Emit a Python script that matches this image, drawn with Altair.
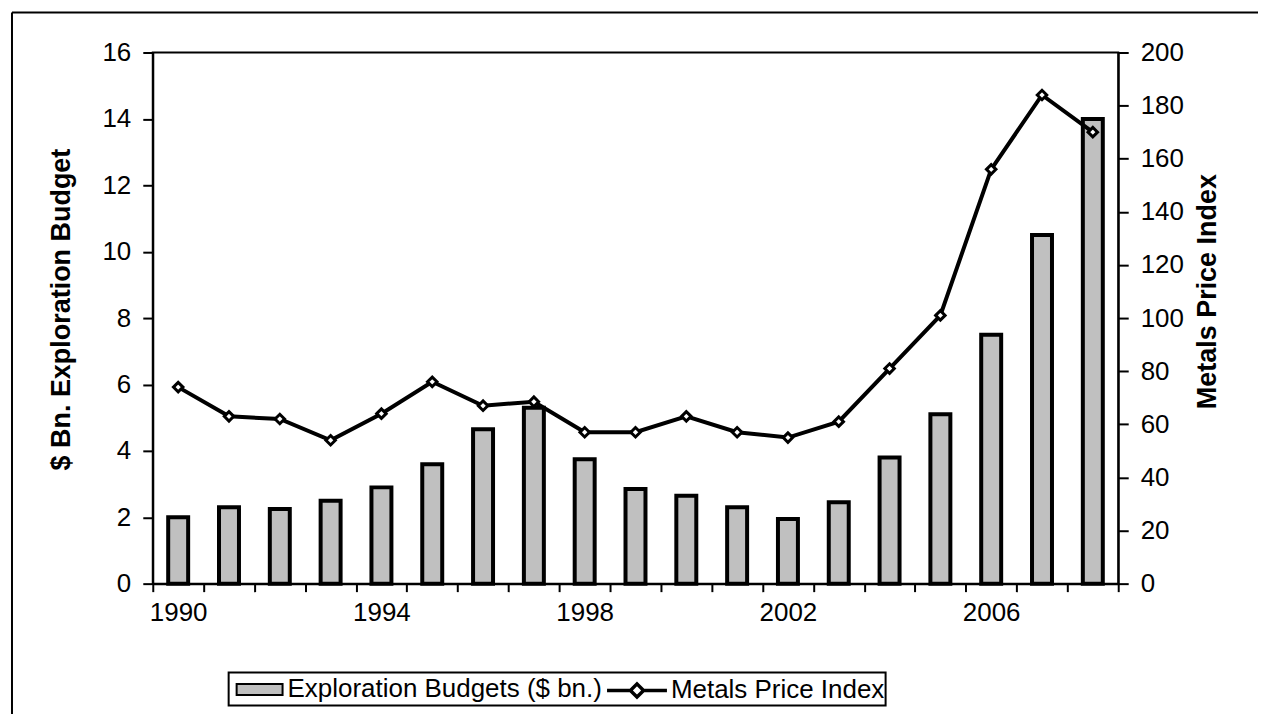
import json
import altair as alt
import pandas as pd

# ---- data ----
years = ["1990", "1991", "1992", "1993", "1994", "1995", "1996", "1997", "1998", "1999",
         "2000", "2001", "2002", "2003", "2004", "2005", "2006", "2007", "2008"]
budgets = [2.0, 2.3, 2.25, 2.5, 2.9, 3.6, 4.65, 5.3, 3.75, 2.85,
           2.65, 2.3, 1.95, 2.45, 3.8, 5.1, 7.5, 10.5, 14.0]
metals_index = [74, 63, 62, 54, 64, 76, 67, 68.5, 57, 57,
                63, 57, 55, 61, 81, 101, 156, 184, 170]
shown_year_labels = ["1990", "1994", "1998", "2002", "2006"]
left_ticks = [0, 2, 4, 6, 8, 10, 12, 14, 16]
right_ticks = [0, 20, 40, 60, 80, 100, 120, 140, 160, 180, 200]
bar_label = "Exploration Budgets ($ bn.)"
line_label = "Metals Price Index"
left_title = "$ Bn. Exploration Budget"
right_title = "Metals Price Index"

FONT = "Liberation Sans"
BAR_FILL = "#c0c0c0"

df = pd.DataFrame({
    "year": years,
    "budget": budgets,
    "index": metals_index,
    "s_bar": [bar_label] * len(years),
    "s_line": [line_label] * len(years),
})

W, H = 967, 532

bar_path = "M-1,-0.24L1,-0.24L1,0.24L-1,0.24Z"
line_path = "M-1,0L-0.22,0M0.22,0L1,0M0,-0.22L0.22,0L0,0.22L-0.22,0Z"

bar_legend = alt.Legend(
    title=None, orient="none", legendX=83, legendY=614, padding=0,
    labelFont=FONT, labelFontSize=26, labelColor="black", labelLimit=600,
    labelOffset=4,
    symbolType=bar_path, symbolSize=2116,
    symbolFillColor=BAR_FILL, symbolStrokeColor="black", symbolStrokeWidth=2,
    symbolOpacity=1,
)
line_legend = alt.Legend(
    title=None, orient="none", legendX=453, legendY=607, padding=0,
    labelFont=FONT, labelFontSize=26, labelColor="black", labelLimit=600,
    labelOffset=2,
    symbolType=line_path, symbolSize=3600,
    symbolFillColor="white", symbolStrokeColor="black", symbolStrokeWidth=3.5,
    symbolOpacity=1,
)

label_expr = f"indexof({json.dumps(shown_year_labels)}, datum.label) >= 0 ? datum.label : ''"

x_enc = alt.X(
    "year:O",
    sort=years,
    scale=alt.Scale(paddingInner=0, paddingOuter=0),
    axis=alt.Axis(
        title=None,
        labelAngle=0,
        tickBand="extent",
        labelExpr=label_expr,
        tickSize=8,
        labelPadding=8,
        labelFontSize=26,
    ),
)

base = alt.Chart(df)

bars = base.mark_bar(size=20, stroke="black", strokeWidth=4).encode(
    x=x_enc,
    y=alt.Y(
        "budget:Q",
        scale=alt.Scale(domain=[0, 16], nice=False),
        axis=alt.Axis(
            title=left_title,
            values=left_ticks,
            tickSize=10,
            labelPadding=12,
            labelFontSize=26,
            titleFontSize=27,
            titleFontWeight="bold",
            titlePadding=26,
            titleY=257,
        ),
    ),
    fill=alt.Fill("s_bar:N", scale=alt.Scale(domain=[bar_label], range=[BAR_FILL]),
                  legend=bar_legend),
)

y_right = alt.Y(
    "index:Q",
    scale=alt.Scale(domain=[0, 200], nice=False),
    axis=alt.Axis(
        orient="right",
        title=right_title,
        values=right_ticks,
        tickSize=10,
        labelPadding=12,
        labelFontSize=26,
        titleFontSize=27,
        titleFontWeight="bold",
        titleAngle=270,
        titlePadding=38,
        titleY=239,
    ),
)

line = base.mark_line(strokeWidth=4).encode(
    x=x_enc,
    y=y_right,
    stroke=alt.Stroke("s_line:N", scale=alt.Scale(domain=[line_label], range=["black"]),
                      legend=line_legend),
)

points = base.mark_point(
    shape="diamond", filled=True, fill="white", stroke="black",
    strokeWidth=3, size=90, opacity=1
).encode(x=x_enc, y=y_right)

right_layer = alt.layer(line, points)

frame_df = pd.DataFrame({"k": [0]})
frame_top = alt.Chart(frame_df).mark_rule(color="black", strokeWidth=2).encode(
    x=alt.value(-141), x2=alt.value(1110), y=alt.value(-40)
)
frame_left = alt.Chart(frame_df).mark_rule(color="black", strokeWidth=2).encode(
    x=alt.value(-141), y=alt.value(-40), y2=alt.value(680)
)
legend_box = alt.Chart(frame_df).mark_rect(
    fill="white", fillOpacity=0, stroke="black", strokeWidth=2
).encode(
    x=alt.value(76), x2=alt.value(734), y=alt.value(621), y2=alt.value(654)
)

chart = (
    alt.layer(bars, right_layer, frame_top, frame_left, legend_box)
    .resolve_scale(y="independent")
    .properties(
        width=W,
        height=H,
        autosize=alt.AutoSizeParams(type="none"),
        padding={"left": 145, "top": 44, "right": 140, "bottom": 130},
        background="white",
    )
    .configure_view(stroke="black", strokeWidth=2)
    .configure_axis(
        grid=False,
        domainColor="black",
        domainWidth=2,
        tickColor="black",
        tickWidth=2,
        labelColor="black",
        titleColor="black",
        labelFont=FONT,
        titleFont=FONT,
    )
)

chart.save("out.html", embed_options={"renderer": "svg", "actions": False})
